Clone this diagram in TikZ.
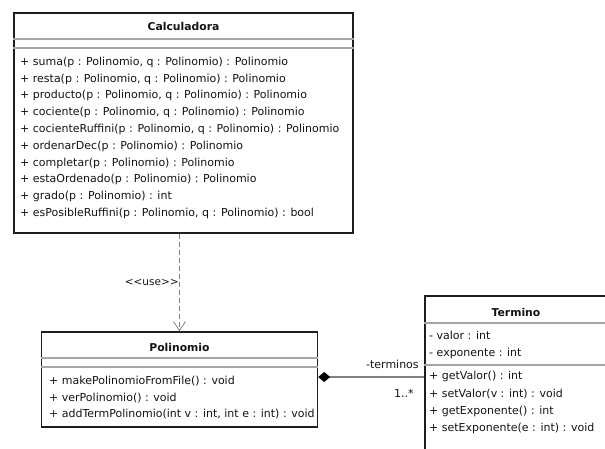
\documentclass[tikz,border=0pt]{standalone}
\usepackage{fontspec}
\setmainfont{DejaVu Sans}
\usepackage{tikz}
\usetikzlibrary{positioning, arrows.meta}
\definecolor{umlline}{RGB}{30, 30, 30}
\definecolor{umlsep}{RGB}{165, 165, 165}
\definecolor{umlgray}{RGB}{130, 130, 130}
\definecolor{umltext}{RGB}{20, 20, 20}
\tikzset{
    classbox/.style={rectangle, draw=umlline, line width=1.4pt, inner sep=0pt},
    classname/.style={inner sep=0pt, text=umltext, font=\fontsize{10.8}{13}\selectfont\bfseries},
    member/.style={anchor=west, inner sep=0pt, text=umltext, text height=8.2pt, text depth=2.3pt,
        font=\fontsize{11}{13}\selectfont},
    compsep/.style={draw=umlsep, line width=1.3pt},
    usedep/.style={draw=umlgray, line width=0.8pt, dash pattern=on 5pt off 3pt,
        -{Straight Barb[length=9pt, width=12pt]}},
    compose/.style={draw=umlgray, line width=1.2pt,
        {Diamond[length=12pt, width=10pt, fill=black, color=black]}-},
    rolelabel/.style={inner sep=0pt, text=umltext, font=\fontsize{11}{13}\selectfont}
}

\begin{document}
\begin{tikzpicture}[x=1pt, y=-1pt]
    \useasboundingbox[fill=white] (0,0) rectangle (605,448);

    % Calculadora
    \node[classbox, minimum width=339pt, minimum height=220pt] (calc) at (183.5,123) {};
    \node[classname] (calcname) at (calc.north |- 0,26) {Calculadora};
    \draw[compsep] (calc.west |- 0,39) -- (calc.east |- 0,39);
    \draw[compsep] (calc.west |- 0,48) -- (calc.east |- 0,48);
    \foreach \m [count=\i] in {
        {+ suma(p : Polinomio, q : Polinomio) : Polinomio},
        {+ resta(p : Polinomio, q : Polinomio) : Polinomio},
        {+ producto(p : Polinomio, q : Polinomio) : Polinomio},
        {+ cociente(p : Polinomio, q : Polinomio) : Polinomio},
        {+ cocienteRuffini(p : Polinomio, q : Polinomio) : Polinomio},
        {+ ordenarDec(p : Polinomio) : Polinomio},
        {+ completar(p : Polinomio) : Polinomio},
        {+ estaOrdenado(p : Polinomio) : Polinomio},
        {+ grado(p : Polinomio) : int},
        {+ esPosibleRuffini(p : Polinomio, q : Polinomio) : bool}}
        \node[member] (calc-\i) at (20, 62.3+16.8*\i-16.8) {\m};

    % Polinomio
    \node[classbox, minimum width=276pt, minimum height=95pt] (poli) at (179.5,379.5) {};
    \node[classname] (poliname) at (poli.north |- 0,347) {Polinomio};
    \draw[compsep] (poli.west |- 0,358) -- (poli.east |- 0,358);
    \draw[compsep] (poli.west |- 0,367) -- (poli.east |- 0,367);
    \foreach \m [count=\i] in {
        {+ makePolinomioFromFile() : void},
        {+ verPolinomio() : void},
        {+ addTermPolinomio(int v : int, int e : int) : void}}
        \node[member] (poli-\i) at (49, 382+16.5*\i-16.5) {\m};

    % Termino
    \node[classbox, minimum width=182pt, minimum height=160pt] (term) at (516,376) {};
    \node[classname] (termname) at (term.north |- 0,312) {Termino};
    \draw[compsep] (term.west |- 0,323) -- (term.east |- 0,323);
    \draw[compsep] (term.west |- 0,365) -- (term.east |- 0,365);
    \node[member] (term-a1) at (429,337) {- valor : int};
    \node[member] (term-a2) at (429,354) {- exponente : int};
    \foreach \m [count=\i] in {
        {+ getValor() : int},
        {+ setValor(v : int) : void},
        {+ getExponente() : int},
        {+ setExponente(e : int) : void}}
        \node[member] (term-\i) at (429, 377+17.1*\i-17.1) {\m};

    % relations
    \draw[usedep] (calc.south -| poli.north) -- (poli.north)
        node[midway, anchor=east, inner sep=0.5pt, text=umltext,
            font=\fontsize{10.5}{12}\selectfont] (uselabel) {<\kern0pt<use>\kern0pt>};
    \coordinate (polirole) at ([yshift=2.5pt]poli.east);
    \draw[compose] (polirole) -- (polirole -| term.west)
        node[pos=1, rolelabel, anchor=south east, xshift=-5pt, yshift=8pt] (rolename) {-terminos}
        node[pos=1, rolelabel, anchor=north east, xshift=-10pt, yshift=-12pt] (rolemult) {1..*};
\end{tikzpicture}
\end{document}
